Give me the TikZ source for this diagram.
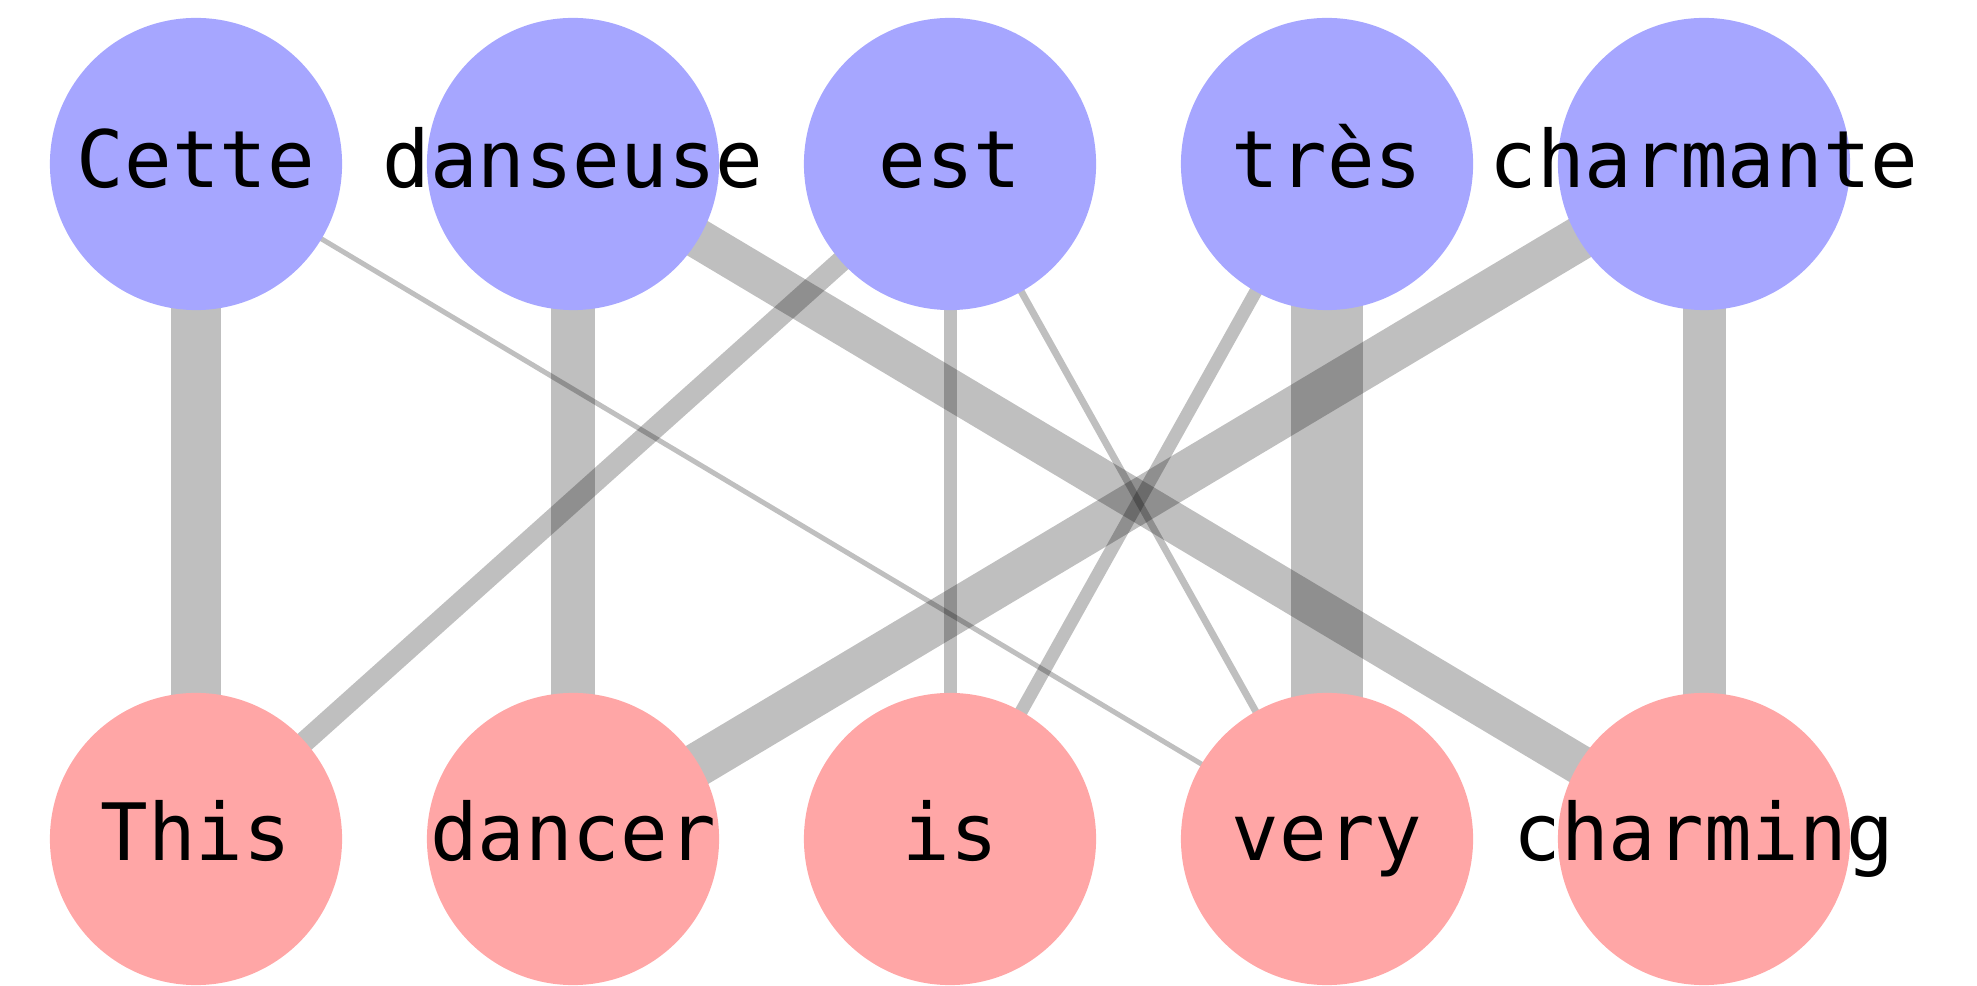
\documentclass[tikz,border=0pt]{standalone}
\usepackage{fontspec}
\newfontfamily\wordmono{DejaVu Sans Mono}
\usetikzlibrary{backgrounds}
\definecolor{srcblue}{RGB}{166,166,255}
\definecolor{tgtpink}{RGB}{255,166,166}
\tikzset{
  srcnode/.style={circle, fill=srcblue, draw=none, minimum size=2.92cm, inner sep=0pt},
  tgtnode/.style={circle, fill=tgtpink, draw=none, minimum size=2.92cm, inner sep=0pt},
  word/.style={anchor=base, inner sep=0pt, font=\wordmono\fontsize{22.5}{27}\selectfont, text=black},
  align/.style={draw=black, draw opacity=0.25, line cap=butt},
}
\begin{document}
\begin{tikzpicture}[x=0.01cm, y=0.01cm]
\useasboundingbox (0,0) rectangle (1977,985);
% source (French) nodes
\node[srcnode] (s1) at (196,821) {};
\node[srcnode] (s2) at (573,821) {};
\node[srcnode] (s3) at (950,821) {};
\node[srcnode] (s4) at (1327,821) {};
\node[srcnode] (s5) at (1704,821) {};
% target (English) nodes
\node[tgtnode] (t1) at (196,146) {};
\node[tgtnode] (t2) at (573,146) {};
\node[tgtnode] (t3) at (950,146) {};
\node[tgtnode] (t4) at (1327,146) {};
\node[tgtnode] (t5) at (1704,146) {};
% alignment edges
\begin{pgfonlayer}{background}
\draw[align, line width=0.50cm] (s1.center) -- (t1.center);
\draw[align, line width=0.44cm] (s2.center) -- (t2.center);
\draw[align, line width=0.13cm] (s3.center) -- (t3.center);
\draw[align, line width=0.72cm] (s4.center) -- (t4.center);
\draw[align, line width=0.43cm] (s5.center) -- (t5.center);
\draw[align, line width=0.05cm] (s1.center) -- (t4.center);
\draw[align, line width=0.40cm] (s2.center) -- (t5.center);
\draw[align, line width=0.21cm] (s3.center) -- (t1.center);
\draw[align, line width=0.07cm] (s3.center) -- (t4.center);
\draw[align, line width=0.13cm] (s4.center) -- (t3.center);
\draw[align, line width=0.44cm] (s5.center) -- (t2.center);
\end{pgfonlayer}
% labels
\node[word] (w1) at ([yshift=-0.23cm]s1.center) {Cette};
\node[word] (w2) at ([yshift=-0.23cm]s2.center) {danseuse};
\node[word] (w3) at ([yshift=-0.23cm]s3.center) {est};
\node[word] (w4) at ([yshift=-0.23cm]s4.center) {très};
\node[word] (w5) at ([yshift=-0.23cm]s5.center) {charmante};
\node[word] (v1) at ([yshift=-0.21cm]t1.center) {This};
\node[word] (v2) at ([yshift=-0.21cm]t2.center) {dancer};
\node[word] (v3) at ([yshift=-0.21cm]t3.center) {is};
\node[word] (v4) at ([yshift=-0.21cm]t4.center) {very};
\node[word] (v5) at ([yshift=-0.21cm]t5.center) {charming};
\end{tikzpicture}
\end{document}
